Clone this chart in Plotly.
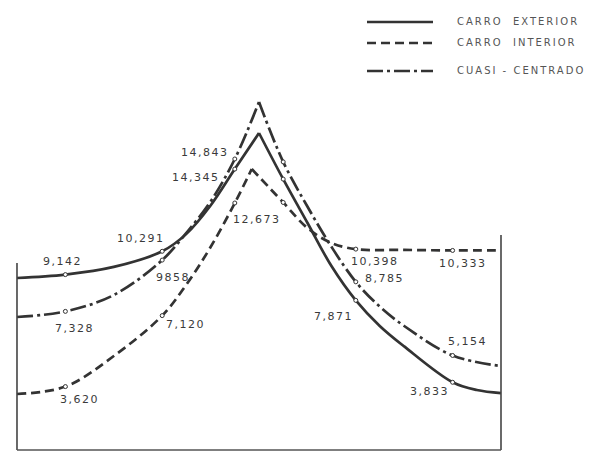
import plotly.graph_objects as go

# Stations along the span (0 = left support, 10 = right support)
stations_ext = [0, 1, 2, 3, 3.5, 4, 4.5, 5, 5.5, 6, 6.5, 7, 7.5, 8, 9, 9.5, 10]
exterior = [8974, 9142, 9520, 10291, 11150, 12550, 14345, 16124,
            13850, 11700, 9550, 7871, 6600, 5600, 3833, 3450, 3300]

stations_int = [0, 1, 2, 3, 3.5, 4, 4.5, 4.85, 5.5, 6, 6.5, 7, 8, 9, 10]
interior = [3254, 3620, 5128, 7120, 8650, 10500, 12673, 14349,
            12700, 11440, 10700, 10398, 10360, 10333, 10340]

stations_cc = [0, 1, 2, 3, 3.5, 4, 4.5, 5, 5.5, 6, 6.5, 7, 7.5, 8, 9, 10]
cuasi = [7051, 7328, 8136, 9858, 11200, 12750, 14843, 17653,
         14700, 12500, 10500, 8785, 7550, 6607, 5154, 4635]

# Stations that carry a small ring marker, and those that carry a value label
marker_stations = [1, 3, 4.5, 5.5, 7, 9]
label_stations = [1, 3, 4.5, 7, 9]
labels_ext = ["9,142", "10,291", "14,345", "7,871", "3,833"]
labels_int = ["3,620", "7,120", "12,673", "10,398", "10,333"]
labels_cc = ["7,328", "9858", "14,843", "8,785", "5,154"]

legend_names = ["CARRO  EXTERIOR", "CARRO  INTERIOR", "CUASI - CENTRADO"]

# Frame heights at the supports and base line level
frame_left_top = 9714
frame_right_top = 11095
frame_base = 493

INK = "#333333"
TEXT = "#3a3a3a"
LW = 2.7
DASHES = {
    "solid": "solid",
    "dash": "9px,5px",
    "dashdot": "16px,4px,3px,4px",
}

series = [
    (stations_ext, exterior, labels_ext, "solid",
     [(-3, 13), (-21, 13), (-39, -8), (-22, -16), (-23, -9)]),
    (stations_int, interior, labels_int, "dash",
     [(14, -13), (23, -9), (22, -17), (19, -12), (10, -13)]),
    (stations_cc, cuasi, labels_cc, "dashdot",
     [(9, -17), (11, -17), (-30, 6), (29, 3), (15, 14)]),
]

fig = go.Figure()
annotations = []

for xs, ys, labels, dash, offsets in series:
    peak = ys.index(max(ys))
    # each branch is smoothed separately so the apex stays sharp
    for a, b in ((0, peak + 1), (peak, len(xs))):
        fig.add_trace(go.Scatter(
            x=xs[a:b], y=ys[a:b], mode="lines",
            line=dict(color=INK, width=LW, dash=DASHES[dash], shape="spline", smoothing=1.0),
            hoverinfo="skip", showlegend=False,
        ))
    mx = [x for x in xs if x in marker_stations]
    my = [ys[xs.index(x)] for x in mx]
    fig.add_trace(go.Scatter(
        x=mx, y=my, mode="markers",
        marker=dict(symbol="circle", size=4, color="white", line=dict(color=INK, width=1)),
        hoverinfo="skip", showlegend=False,
    ))
    for st, txt, (dx, dy) in zip(label_stations, labels, offsets):
        annotations.append(dict(
            x=st, y=ys[xs.index(st)], xref="x", yref="y",
            text=f'<span style="letter-spacing:1.5px">{txt}</span>',
            showarrow=False, xshift=dx, yshift=dy,
            font=dict(family="DejaVu Sans", size=11, color=TEXT),
        ))

# Support frame
shapes = [
    dict(type="line", xref="x", yref="y", x0=stations_ext[0], x1=stations_ext[0],
         y0=frame_base, y1=frame_left_top, line=dict(color="#444444", width=1.6)),
    dict(type="line", xref="x", yref="y", x0=stations_ext[-1], x1=stations_ext[-1],
         y0=frame_base, y1=frame_right_top, line=dict(color="#444444", width=1.6)),
    dict(type="line", xref="x", yref="y", x0=stations_ext[0], x1=stations_ext[-1],
         y0=frame_base, y1=frame_base, line=dict(color="#555555", width=1.6)),
]

# Legend key drawn in paper space
W, H = 592, 452
legend_rows = [(22, "solid"), (43, "dash"), (71, "dashdot")]
for (py, dash), name in zip(legend_rows, legend_names):
    shapes.append(dict(
        type="line", xref="paper", yref="paper",
        x0=367 / W, x1=433 / W, y0=1 - py / H, y1=1 - py / H,
        line=dict(color=INK, width=LW, dash=DASHES[dash]),
    ))
    annotations.append(dict(
        x=455 / W, y=1 - py / H, xref="paper", yref="paper",
        xanchor="left", yanchor="middle", showarrow=False,
        text=f'<span style="letter-spacing:2px">{name}</span>',
        font=dict(family="DejaVu Sans", size=10, color="#555555"),
    ))

fig.update_layout(
    width=W, height=H,
    margin=dict(l=0, r=0, t=0, b=0),
    paper_bgcolor="white", plot_bgcolor="white",
    xaxis=dict(range=[-0.351, 11.880], visible=False, fixedrange=True),
    yaxis=dict(range=[394.5, 22682], visible=False, fixedrange=True),
    shapes=shapes,
    annotations=annotations,
    showlegend=False,
)

fig.write_html("out.html")
